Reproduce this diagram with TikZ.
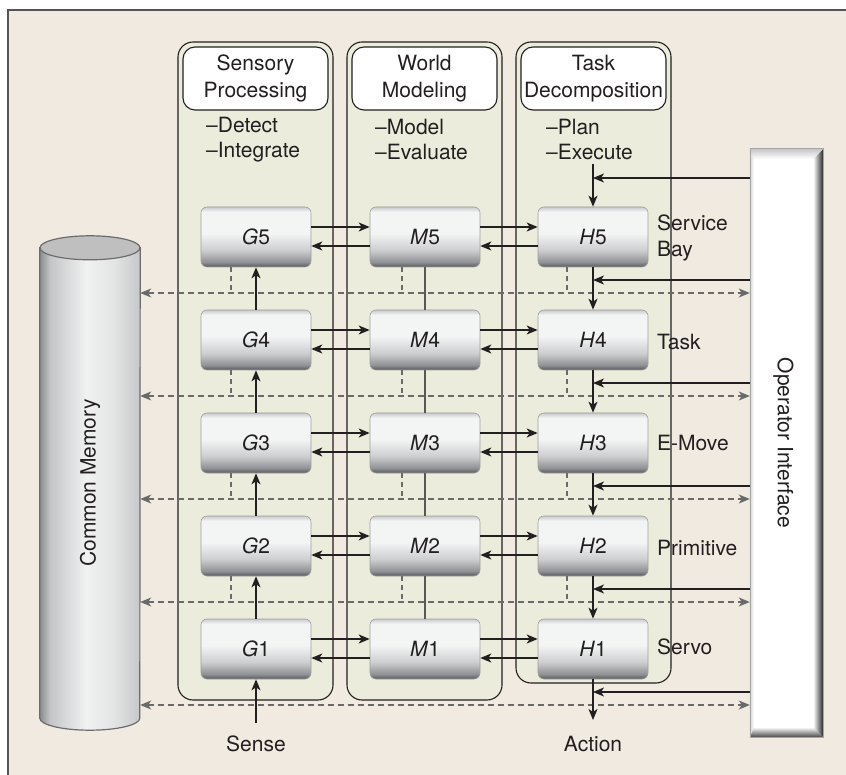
\documentclass[tikz,border=0pt]{standalone}
\usepackage{fontspec}
\setmainfont{TeX Gyre Heros}
\usetikzlibrary{arrows.meta}

\definecolor{bgc}{HTML}{F1EAE1}
\definecolor{panelc}{HTML}{ECECDC}
\definecolor{ink}{HTML}{231F20}
\definecolor{dgray}{HTML}{6A6A6A}
\definecolor{frame}{HTML}{555555}
\definecolor{bxD}{HTML}{55575A}
\definecolor{bxM}{HTML}{8F9194}
\definecolor{bxL}{HTML}{CDCED0}
\definecolor{bxW}{HTML}{F3F4F4}
\definecolor{bxT}{HTML}{C9CACB}
\definecolor{cy1}{HTML}{8A8B8C}
\definecolor{cy2}{HTML}{C4C5C6}
\definecolor{cy3}{HTML}{F0F1F1}
\definecolor{cy4}{HTML}{E3E4E4}
\definecolor{cy5}{HTML}{C6C7C8}

\pgfdeclareverticalshading{boxshade}{100bp}{%
  color(0bp)=(bxD); color(25bp)=(bxD); color(29bp)=(bxM); color(39bp)=(bxL);
  color(53bp)=(bxW); color(71bp)=(bxW); color(75bp)=(bxT); color(100bp)=(bxT)}
\pgfdeclarehorizontalshading{cylshade}{100bp}{%
  color(0bp)=(cy1); color(25bp)=(cy1); color(30bp)=(cy2); color(48bp)=(cy3);
  color(62bp)=(cy4); color(75bp)=(cy5); color(100bp)=(cy5)}

\tikzset{
  txt/.style={font=\fontsize{21}{26}\selectfont, text=ink, inner sep=0pt},
  panel/.style={fill=panelc, draw=ink, line width=1.1pt, rounded corners=15pt},
  header/.style={fill=white, draw=ink, line width=1.1pt, rounded corners=12pt,
    minimum width=145pt, minimum height=63pt, inner sep=0pt, align=center,
    font=\fontsize{21}{27}\selectfont, text=ink},
  box/.style={shade, shading=boxshade, draw=gray!75, line width=0.6pt,
    rounded corners=6pt, minimum width=110pt, minimum height=60pt, inner sep=0pt,
    font=\fontsize{21}{24}\selectfont, text=ink},
  arr/.style={draw=ink, line width=1.6pt, -{Stealth[length=11pt,width=9pt,inset=3pt]}},
  dsh/.style={draw=dgray, line width=1.3pt, dash pattern=on 6pt off 4pt,
    {Stealth[length=11pt,width=9pt,inset=3pt]}-{Stealth[length=11pt,width=9pt,inset=3pt]}},
  drop/.style={draw=dgray, line width=1.1pt, dash pattern=on 5pt off 4pt},
  mline/.style={draw=ink!75, line width=1.2pt},
}

\begin{document}
\begin{tikzpicture}[x=1pt, y=-1pt]
\useasboundingbox (0,0) rectangle (846,775);

% page background and frame
\fill[white] (0,0) rectangle (846,775);
\fill[bgc] (8,10) rectangle (846,775);
\draw[frame, line width=1.5pt] (846,10) -- (8,10) -- (8,775);

% the three function columns
\draw[panel] (178,42) rectangle (333,700);
\draw[panel] (347,42) rectangle (502,700);
\draw[panel] (516,42) rectangle (671,683);

\node[header] (SPh) at (255.5,78.5) {Sensory\\Processing};
\node[header] (WMh) at (424.5,78.5) {World\\Modeling};
\node[header] (TDh) at (593.5,78.5) {Task\\Decomposition};

\node[txt, anchor=west, align=left, font=\fontsize{21}{25}\selectfont] (SPl) at (206,139.5) {–Detect\\–Integrate};
\node[txt, anchor=west, align=left, font=\fontsize{21}{25}\selectfont] (WMl) at (375,139.5) {–Model\\–Evaluate};
\node[txt, anchor=west, align=left, font=\fontsize{21}{25}\selectfont] (TDl) at (546,139.5) {–Plan\\–Execute};

% common memory cylinder
\node[minimum width=100pt, minimum height=470pt, inner sep=0pt] (CM) at (90,483) {};
\path[shade, shading=cylshade, draw=gray!85!black, line width=1.2pt]
  (CM.north west) -- (CM.south west)
  arc[start angle=180, end angle=360, x radius=50pt, y radius=12pt]
  -- (CM.north east) -- cycle;
\draw[fill=gray!50, draw=gray!85!black, line width=1.2pt]
  (CM.north) ellipse[x radius=50pt, y radius=12pt];
\node[txt, rotate=90] at (CM.center) {Common Memory};

% operator interface panel with bevelled edges
\node[minimum width=73pt, minimum height=588pt, inner sep=0pt] (OI) at (786.5,443) {};
\fill[gray!55] (OI.north west) rectangle (OI.south east);
\path[left color=white, right color=gray!30!black]
  (OI.north east) -- (OI.south east) -- ([shift={(-10pt,10pt)}]OI.south east) -- ([shift={(-10pt,-10pt)}]OI.north east) -- cycle;
\path[top color=white, bottom color=gray!55!black]
  (OI.south west) -- (OI.south east) -- ([shift={(-10pt,10pt)}]OI.south east) -- ([shift={(4pt,10pt)}]OI.south west) -- cycle;
\path[top color=gray!45, bottom color=white]
  (OI.north west) -- (OI.north east) -- ([shift={(-10pt,-10pt)}]OI.north east) -- ([shift={(4pt,-10pt)}]OI.north west) -- cycle;
\path[left color=gray!35, right color=white]
  (OI.north west) -- ([shift={(4pt,-10pt)}]OI.north west) -- ([shift={(4pt,10pt)}]OI.south west) -- (OI.south west) -- cycle;
\fill[white] ([shift={(4pt,-10pt)}]OI.north west) rectangle ([shift={(-10pt,10pt)}]OI.south east);
\draw[gray!70, line width=0.6pt] (OI.north west) rectangle (OI.south east);
\node[txt, rotate=-90] at ([xshift=-3pt]OI.center) {Operator Interface};

% control levels
\foreach \k/\y in {5/237,4/340,3/443,2/546,1/649} {
  \node[box] (G\k) at (256,\y) {\textit{G}\k};
  \node[box] (M\k) at (425,\y) {\textit{M}\k};
  \node[box] (H\k) at (593,\y) {\textit{H}\k};
  \coordinate (d\k) at (0,\y+56);
  \coordinate (o\k) at (593,\y+43);
}
\coordinate (o6) at (593,178);
\coordinate (exe) at (593,164);
\coordinate (act) at (593,720);
\coordinate (sen) at (256,723);

% level names
\node[txt, anchor=west, align=left] (L5) at (657,237.5) {Service\\Bay};
\node[txt, anchor=west] (L4) at (657,342) {Task};
\node[txt, anchor=west] (L3) at (657,443) {E-Move};
\node[txt, anchor=west] (L2) at (657,548) {Primitive};
\node[txt, anchor=west] (L1) at (657,647) {Servo};

% links to common memory and operator interface
\foreach \k in {1,...,5} {
  \draw[dsh] (CM.east |- d\k) -- (OI.west |- d\k);
}
\foreach \k in {2,...,5} {
  \draw[drop] ([xshift=-25pt]G\k.south) -- ([xshift=-25pt]G\k.south |- d\k);
  \draw[drop] ([xshift=-23pt]M\k.south) -- ([xshift=-23pt]M\k.south |- d\k);
  \draw[drop] ([xshift=-26pt]H\k.south) -- ([xshift=-26pt]H\k.south |- d\k);
}
\foreach \k in {1,...,6} {
  \draw[arr] (OI.west |- o\k) -- (o\k);
}

% horizontal exchanges between columns
\foreach \k in {1,...,5} {
  \draw[arr] ([yshift=10pt]G\k.east) -- ([yshift=10pt]M\k.west);
  \draw[arr] ([yshift=-9pt]M\k.west) -- ([yshift=-9pt]G\k.east);
  \draw[arr] ([yshift=10pt]M\k.east) -- ([yshift=10pt]H\k.west);
  \draw[arr] ([yshift=-9pt]H\k.west) -- ([yshift=-9pt]M\k.east);
}

% vertical flows
\foreach \a/\b in {1/2,2/3,3/4,4/5} {
  \draw[arr] (G\a.north) -- (G\b.south);
  \draw[mline] (M\a.north) -- (M\b.south);
  \draw[arr] (H\b.south) -- (H\a.north);
}
\draw[arr] (sen) -- (G1.south);
\draw[arr] (exe) -- (H5.north);
\draw[arr] (H1.south) -- (act);

\node[txt] (sense) at (256,744) {Sense};
\node[txt] (action) at (593,744) {Action};
\end{tikzpicture}
\end{document}
